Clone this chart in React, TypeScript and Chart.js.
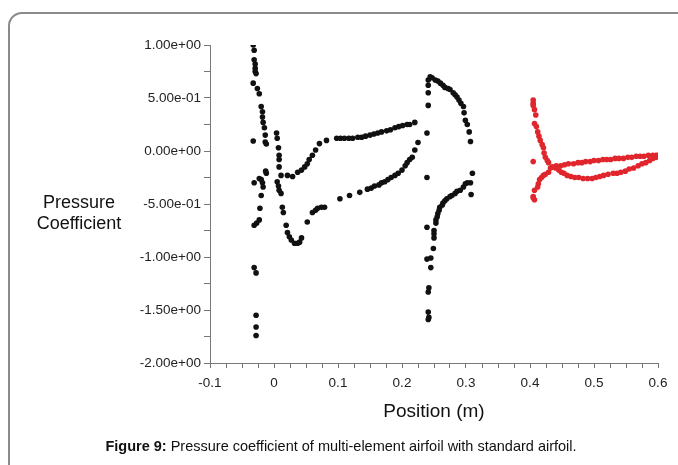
import React, { useEffect, useRef } from "react";
import { Chart, registerables } from "chart.js";

Chart.register(...registerables);

// Slat (black)
const slatX = [-0.0325, -0.031, -0.031, -0.0294, -0.0294, -0.0294, -0.028, -0.0325, -0.026, -0.023, -0.020, -0.018, -0.018, -0.017, -0.015, -0.0137, -0.0137, -0.012, -0.0325, -0.013, -0.012, -0.020, -0.031, -0.018, -0.017, -0.023, -0.020, -0.022, -0.023, -0.027, -0.031, -0.031, -0.028, -0.028, -0.028, -0.028];
const slatY = [1.0, 0.95, 0.86, 0.82, 0.78, 0.75, 0.73, 0.64, 0.59, 0.54, 0.42, 0.37, 0.32, 0.27, 0.22, 0.15, 0.085, 0.066, 0.094, -0.19, -0.21, -0.27, -0.30, -0.30, -0.34, -0.26, -0.42, -0.54, -0.65, -0.68, -0.70, -1.10, -1.15, -1.55, -1.66, -1.74];

// Main element (black)
const mainX = [0.004, 0.005, 0.007, 0.008, 0.008, 0.008, 0.011, 0.005, 0.007, 0.008, 0.011, 0.013, 0.0146, 0.019, 0.021, 0.024, 0.027, 0.032, 0.037, 0.040, 0.043, 0.052, 0.060, 0.065, 0.068, 0.074, 0.079, 0.103, 0.118, 0.134, 0.146, 0.152, 0.157, 0.164, 0.168, 0.173, 0.178, 0.183, 0.189, 0.194, 0.200, 0.205, 0.208, 0.212, 0.216, 0.220, 0.225, 0.021, 0.029, 0.037, 0.043, 0.048, 0.052, 0.055, 0.060, 0.065, 0.071, 0.082, 0.098, 0.104, 0.110, 0.117, 0.123, 0.131, 0.137, 0.143, 0.150, 0.156, 0.162, 0.168, 0.176, 0.182, 0.189, 0.195, 0.201, 0.208, 0.212, 0.220];
const mainY = [0.17, 0.12, 0.03, -0.04, -0.08, -0.15, -0.23, -0.29, -0.33, -0.37, -0.40, -0.53, -0.58, -0.70, -0.77, -0.81, -0.84, -0.87, -0.87, -0.86, -0.82, -0.67, -0.58, -0.56, -0.54, -0.53, -0.53, -0.45, -0.42, -0.39, -0.36, -0.35, -0.33, -0.32, -0.30, -0.29, -0.27, -0.25, -0.23, -0.21, -0.18, -0.14, -0.11, -0.08, -0.06, 0.01, 0.08, -0.23, -0.24, -0.20, -0.18, -0.15, -0.12, -0.08, -0.04, 0.01, 0.07, 0.10, 0.12, 0.12, 0.12, 0.12, 0.12, 0.13, 0.13, 0.14, 0.15, 0.16, 0.17, 0.18, 0.19, 0.20, 0.22, 0.23, 0.24, 0.25, 0.25, 0.27];

// Flap (black)
const flapX = [0.244, 0.241, 0.241, 0.241, 0.241, 0.239, 0.239, 0.247, 0.252, 0.256, 0.260, 0.264, 0.267, 0.272, 0.275, 0.280, 0.283, 0.286, 0.289, 0.292, 0.296, 0.297, 0.299, 0.302, 0.305, 0.307, 0.310, 0.307, 0.308, 0.302, 0.299, 0.296, 0.291, 0.286, 0.283, 0.278, 0.275, 0.270, 0.267, 0.264, 0.263, 0.259, 0.258, 0.256, 0.255, 0.253, 0.253, 0.239, 0.250, 0.250, 0.250, 0.249, 0.245, 0.239, 0.245, 0.242, 0.241, 0.241, 0.242, 0.241];
const flapY = [0.70, 0.67, 0.62, 0.55, 0.43, 0.17, -0.25, 0.69, 0.67, 0.66, 0.64, 0.62, 0.60, 0.59, 0.58, 0.55, 0.53, 0.51, 0.48, 0.45, 0.42, 0.36, 0.29, 0.25, 0.18, 0.09, -0.21, -0.30, -0.41, -0.30, -0.31, -0.34, -0.37, -0.38, -0.40, -0.42, -0.43, -0.45, -0.47, -0.49, -0.51, -0.53, -0.56, -0.59, -0.62, -0.65, -0.68, -0.72, -0.75, -0.78, -0.82, -0.92, -1.01, -1.02, -1.10, -1.29, -1.33, -1.52, -1.57, -1.59];

// Standard airfoil (red)
const refX = [0.405, 0.405, 0.405, 0.407, 0.409, 0.407, 0.410, 0.412, 0.414, 0.416, 0.419, 0.421, 0.422, 0.424, 0.427, 0.429, 0.405, 0.432, 0.429, 0.424, 0.421, 0.418, 0.415, 0.413, 0.412, 0.407, 0.405, 0.407, 0.405, 0.435, 0.441, 0.448, 0.454, 0.460, 0.468, 0.475, 0.481, 0.487, 0.494, 0.500, 0.507, 0.514, 0.520, 0.526, 0.533, 0.539, 0.546, 0.553, 0.559, 0.566, 0.572, 0.578, 0.585, 0.592, 0.597, 0.600, 0.440, 0.445, 0.449, 0.453, 0.458, 0.464, 0.470, 0.476, 0.483, 0.490, 0.497, 0.503, 0.509, 0.515, 0.522, 0.530, 0.536, 0.542, 0.549, 0.555, 0.562, 0.569, 0.575, 0.581, 0.587, 0.592, 0.597];
const refY = [0.48, 0.45, 0.43, 0.39, 0.34, 0.26, 0.23, 0.18, 0.14, 0.10, 0.06, 0.03, -0.02, -0.06, -0.09, -0.11, -0.10, -0.16, -0.20, -0.22, -0.23, -0.25, -0.27, -0.31, -0.34, -0.37, -0.43, -0.46, -0.44, -0.15, -0.14, -0.14, -0.13, -0.12, -0.12, -0.11, -0.11, -0.10, -0.10, -0.09, -0.09, -0.08, -0.08, -0.08, -0.07, -0.07, -0.07, -0.06, -0.06, -0.05, -0.05, -0.05, -0.04, -0.04, -0.04, -0.04, -0.16, -0.18, -0.20, -0.21, -0.23, -0.24, -0.25, -0.25, -0.26, -0.26, -0.26, -0.25, -0.24, -0.23, -0.22, -0.21, -0.21, -0.20, -0.19, -0.17, -0.16, -0.14, -0.12, -0.11, -0.09, -0.07, -0.06];

const xMin = -0.1;
const xMax = 0.6;
const yMin = -2;
const yMax = 1;

const FONT = "'Liberation Sans', Arial, Helvetica, sans-serif";

const toPts = (xs: number[], ys: number[]) => xs.map((x, i) => ({ x, y: ys[i] }));

const fmtExp = (v: number) =>
  v.toExponential(2).replace(/e([+-])(\d)$/, "e$10$2");

export default function App() {
  const ref = useRef<HTMLCanvasElement | null>(null);

  useEffect(() => {
    if (!ref.current) return;
    const black = "#111111";
    const red = "#e0262c";
    const ds = (data: any[], color: string) => ({
      data,
      pointRadius: 2.8,
      pointBackgroundColor: color,
      pointBorderWidth: 0,
      borderColor: color,
      showLine: false,
    });
    const chart = new Chart(ref.current, {
      type: "scatter",
      data: {
        datasets: [
          ds(toPts(slatX, slatY), black),
          ds(toPts(mainX, mainY), black),
          ds(toPts(flapX, flapY), black),
          ds(toPts(refX, refY), red),
        ],
      },
      options: {
        animation: false,
        responsive: false,
        layout: { padding: { left: 140, top: 45, right: 20, bottom: 72 } },
        plugins: { legend: { display: false }, tooltip: { enabled: false } },
        scales: {
          x: {
            type: "linear",
            min: xMin,
            max: xMax,
            afterFit: (s: any) => {
              s.height = 30;
            },
            ticks: {
              stepSize: 0.025,
              autoSkip: false,
              maxRotation: 0,
              padding: 7,
              color: "#222",
              font: { family: FONT, size: 13.5 },
              callback: (v: any) => {
                const n = Number(v);
                return Math.abs(n * 10 - Math.round(n * 10)) < 1e-6
                  ? String(Math.round(n * 10) / 10)
                  : "";
              },
            },
            grid: {
              drawOnChartArea: false,
              drawTicks: true,
              tickLength: 5,
              color: "#777",
            },
            border: { color: "#777", width: 1 },
          },
          y: {
            type: "linear",
            min: yMin,
            max: yMax,
            afterFit: (s: any) => {
              s.width = 70;
            },
            ticks: {
              stepSize: 0.25,
              autoSkip: false,
              padding: 3,
              color: "#222",
              font: { family: FONT, size: 13.5 },
              callback: (v: any) => {
                const n = Number(v);
                return Math.abs(n * 2 - Math.round(n * 2)) < 1e-6
                  ? fmtExp(Math.round(n * 2) / 2)
                  : "";
              },
            },
            grid: {
              drawOnChartArea: false,
              drawTicks: true,
              tickLength: 6,
              color: "#777",
            },
            border: { color: "#777", width: 1 },
          },
        },
      },
    });
    return () => chart.destroy();
  }, []);

  return (
    <div
      style={{
        position: "fixed",
        left: 0,
        top: 0,
        width: 678,
        height: 465,
        overflow: "hidden",
        background: "#fff",
        fontFamily: FONT,
        color: "#111",
      }}
    >
      <div
        style={{
          position: "absolute",
          left: 8,
          top: 12,
          width: 800,
          height: 600,
          border: "2px solid #8a8a8a",
          borderRadius: 14,
          boxSizing: "border-box",
        }}
      />
      <canvas
        ref={ref}
        width={678}
        height={465}
        style={{ position: "absolute", left: 0, top: 0, width: 678, height: 465 }}
      />
      <div
        style={{
          position: "absolute",
          left: 20,
          top: 192,
          width: 118,
          textAlign: "center",
          fontSize: 18,
          lineHeight: "21px",
        }}
      >
        Pressure
        <br />
        Coefficient
      </div>
      <div
        style={{
          position: "absolute",
          left: 334,
          top: 400,
          width: 200,
          textAlign: "center",
          fontSize: 19,
          lineHeight: "22px",
        }}
      >
        Position (m)
      </div>
      <div
        style={{
          position: "absolute",
          left: 0,
          top: 437,
          width: 682,
          textAlign: "center",
          fontSize: 14.5,
          lineHeight: "18px",
        }}
      >
        <b>Figure 9:</b> Pressure coefficient of multi-element airfoil with standard airfoil.
      </div>
    </div>
  );
}
